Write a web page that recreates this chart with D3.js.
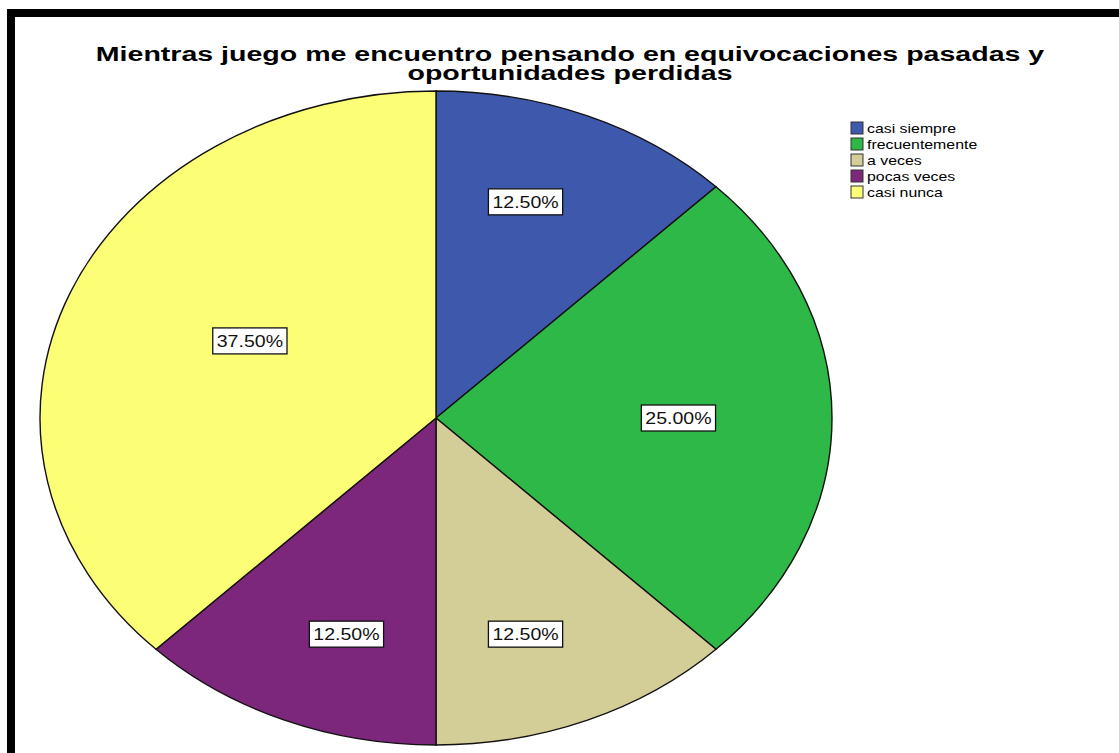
<!DOCTYPE html>
<html>
<head>
<meta charset="utf-8">
<script src="https://cdn.jsdelivr.net/npm/d3@7"></script>
<style>
  html, body { margin: 0; padding: 0; background: #fff; }
  svg { display: block; }
  text { font-family: "Liberation Sans", Arial, sans-serif; }
</style>
</head>
<body>
<svg id="chart" width="1119" height="753"></svg>
<script>
// Response categories and their shares (%)
const categories = ["casi siempre", "frecuentemente", "a veces", "pocas veces", "casi nunca"];
const percents = [12.5, 25.0, 12.5, 12.5, 37.5];
const sliceColors = ["#3E58AC", "#2EB848", "#D3CE97", "#7C277C", "#FCFF75"];
const titleLines = [
  "Mientras juego me encuentro pensando en equivocaciones pasadas y",
  "oportunidades perdidas"
];

const W = 1119, H = 753;
const svg = d3.select("#chart");
svg.append("rect").attr("width", W).attr("height", H).attr("fill", "#fff");

// Frame: heavy rule along the top and left edges
svg.append("rect").attr("x", 7).attr("y", 9).attr("width", W - 7).attr("height", 8).attr("fill", "#000");
svg.append("rect").attr("x", 7).attr("y", 9).attr("width", 8).attr("height", H - 9).attr("fill", "#000");

// Title (text is widened, as in the exported chart)
const title = svg.append("g").attr("transform", "translate(570,0) scale(1.36,1)");
title.selectAll("text").data(titleLines).join("text")
  .attr("x", 0)
  .attr("y", (d, i) => 61 + i * 19)
  .attr("text-anchor", "middle")
  .attr("font-size", 21)
  .attr("font-weight", "bold")
  .attr("fill", "#000")
  .text(d => d);

// Elliptical pie: draw a circular pie and stretch it horizontally
const cx = 436, cy = 418, rx = 396, ry = 327;
const pie = d3.pie().sort(null).value(d => d).startAngle(0).endAngle(2 * Math.PI);
const arcs = pie(percents);
const arc = d3.arc().innerRadius(0).outerRadius(ry);

const pieG = svg.append("g").attr("transform", `translate(${cx},${cy}) scale(${rx / ry},1)`);
pieG.selectAll("path").data(arcs).join("path")
  .attr("d", arc)
  .attr("fill", (d, i) => sliceColors[i])
  .attr("stroke", "#111")
  .attr("stroke-width", 1.4)
  .attr("vector-effect", "non-scaling-stroke");

// Polar radius of the ellipse along a direction measured clockwise from 12 o'clock
const polarR = a => 1 / Math.sqrt((Math.sin(a) / rx) ** 2 + (Math.cos(a) / ry) ** 2);

// Value labels: placed along the slice's middle direction, nearer the rim for thin slices
const fmt = d => d3.format(".2f")(d) + "%";
const lsx = 1.15;
const labelG = svg.append("g");
arcs.forEach((a, i) => {
  const mid = (a.startAngle + a.endAngle) / 2;
  const half = (a.endAngle - a.startAngle) / 2;
  const frac = 0.785 - 0.22 * half;
  const dist = frac * polarR(mid);
  const px = cx + dist * Math.sin(mid);
  const py = cy - dist * Math.cos(mid);
  const g = labelG.append("g").attr("transform", `translate(${px},${py})`);
  const t = g.append("text")
    .attr("text-anchor", "middle")
    .attr("dy", "0.36em")
    .attr("font-size", 17)
    .attr("fill", "#111")
    .attr("transform", `scale(${lsx},1)`)
    .text(fmt(percents[i]));
  const bb = t.node().getBBox();
  const bw = bb.width * lsx + 8, bh = 26;
  g.insert("rect", "text")
    .attr("x", -bw / 2).attr("y", -bh / 2)
    .attr("width", bw).attr("height", bh)
    .attr("fill", "#fff")
    .attr("stroke", "#111")
    .attr("stroke-width", 1.3);
});

// Legend
const legend = svg.append("g").attr("transform", "translate(851,122)");
const rows = legend.selectAll("g").data(categories).join("g")
  .attr("transform", (d, i) => `translate(0,${i * 16})`);
rows.append("rect")
  .attr("width", 12).attr("height", 12)
  .attr("fill", (d, i) => sliceColors[i])
  .attr("stroke", "#333").attr("stroke-width", 1);
rows.append("text")
  .attr("transform", "translate(16,11) scale(1.22,1)")
  .attr("font-size", 13)
  .attr("fill", "#000")
  .text(d => d);
</script>
</body>
</html>
